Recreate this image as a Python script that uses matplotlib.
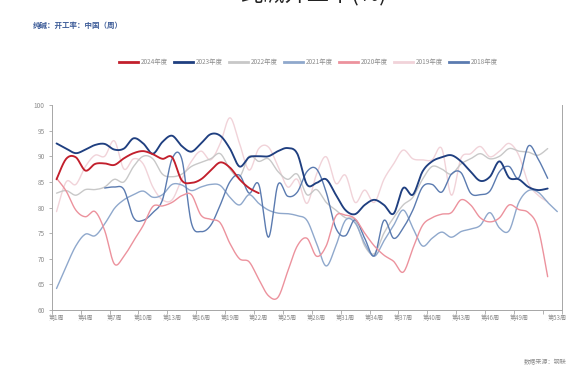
import numpy as np
import matplotlib
matplotlib.use("Agg")
import matplotlib.pyplot as plt
from matplotlib.lines import Line2D

plt.rcParams['font.family'] = ['Noto Sans CJK SC', 'DejaVu Sans']

# ---- data: soda ash operating rate by week (%) ----
y2024 = [85.5, 89.5, 89.8, 87.2, 88.5, 88.6, 88.3, 89.6, 90.6, 91.0, 90.4, 89.5,
         89.8, 85.3, 84.8, 85.5, 87.2, 88.8, 87.8, 85.5, 83.8, 82.8]

y2023 = [92.5, 91.5, 90.6, 91.3, 92.2, 92.4, 91.3, 91.5, 93.5, 92.5, 90.5, 92.8,
         94.0, 92.0, 90.9, 92.5, 94.3, 94.0, 91.5, 88.0, 89.8, 90.0, 90.0, 91.0,
         91.6, 90.5, 84.5, 84.8, 85.5, 82.5, 79.5, 78.7, 80.5, 81.5, 80.5, 78.8,
         83.8, 82.5, 87.0, 89.0, 89.8, 90.2, 89.0, 87.0, 85.2, 86.0, 89.0, 85.8,
         85.5, 84.0, 83.4, 83.7]

y2022 = [82.8, 83.3, 82.4, 83.5, 83.5, 84.0, 85.5, 85.0, 88.0, 90.0, 89.5, 86.5,
         86.0, 86.5, 88.0, 88.8, 89.5, 90.5, 87.5, 86.0, 90.0, 89.0, 89.5, 87.0,
         85.5, 86.5, 82.5, 83.5, 81.0, 79.5, 78.0, 77.5, 72.5, 71.0, 75.0, 78.0,
         80.5, 82.0, 85.5, 88.0, 87.5, 86.5, 88.5, 89.5, 90.5, 89.5, 90.0, 91.5,
         91.0, 90.8, 90.2, 91.5]

y2021 = [64.2, 68.5, 72.5, 74.8, 74.5, 76.8, 79.8, 81.5, 82.5, 83.2, 82.0, 82.5,
         84.5, 84.4, 83.3, 84.0, 84.5, 84.3, 82.0, 80.5, 82.5, 80.8, 79.5, 78.9,
         78.8, 78.4, 77.5, 73.0, 68.6, 72.5, 77.5, 77.0, 73.0, 70.5, 73.5, 76.5,
         79.5, 76.0, 72.5, 74.0, 75.2, 74.2, 75.3, 75.8, 76.5, 79.0, 76.0, 75.5,
         81.0, 83.3, 83.0, 81.0, 79.2]

y2020 = [85.7, 83.2, 79.5, 78.2, 79.2, 75.5, 69.0, 70.5, 73.5, 76.5, 80.2, 80.3,
         81.0, 82.3, 82.5, 78.5, 77.7, 77.0, 73.0, 70.0, 69.4, 66.0, 62.8, 62.5,
         67.5, 72.5, 74.0, 70.5, 72.5, 78.3, 78.5, 77.8, 75.0, 72.5, 70.7, 69.5,
         67.4, 72.0, 76.5, 78.0, 78.7, 79.0, 81.5, 80.5, 78.0, 77.2, 78.0, 80.5,
         79.6, 79.0, 76.0, 66.5]

y2019 = [79.2, 85.0, 84.5, 88.0, 90.2, 90.0, 93.0, 87.5, 89.5, 88.5, 84.0, 81.5,
         81.5, 85.5, 89.0, 91.0, 89.3, 92.5, 97.5, 92.5, 87.3, 91.5, 91.8, 88.0,
         84.0, 85.5, 80.8, 86.5, 89.9, 84.7, 86.3, 81.0, 83.4, 81.0, 85.5, 88.5,
         91.2, 89.5, 89.3, 89.3, 91.5, 82.4, 89.6, 90.5, 91.9, 89.9, 91.0, 92.5,
         90.2, 84.7, 82.4, 81.1]

# 2018 series is only reported from week 6 onward
y2018 = [None] * 5 + [83.8, 84.0, 83.5, 78.0, 77.5, 79.0, 81.5, 89.5, 89.5, 77.0,
         75.3, 76.5, 80.5, 85.0, 86.3, 82.8, 84.5, 74.2, 84.5, 82.2, 83.0, 87.0,
         87.5, 83.0, 76.0, 74.5, 77.6, 74.0, 70.6, 77.5, 74.0, 76.0, 79.5, 84.0,
         84.5, 83.0, 86.5, 86.8, 82.8, 82.5, 83.2, 87.0, 88.0, 85.8, 92.0, 89.5,
         85.7]

series_names = ['2024年度', '2023年度', '2022年度', '2021年度', '2020年度', '2019年度', '2018年度']
series_values = [y2024, y2023, y2022, y2021, y2020, y2019, y2018]
series_colors = ['#c21f2c', '#1f3f80', '#c8c8c8', '#8fa8cc', '#ec929d', '#f1d3d9', '#5b7bb0']
series_widths = [1.35, 1.35, 1.0, 1.0, 1.0, 1.0, 1.0]
draw_order = [5, 2, 3, 6, 4, 1, 0]

tick_weeks = [1, 4, 7, 10, 13, 16, 19, 22, 25, 28, 31, 34, 37, 40, 43, 46, 49, 53]
tick_labels = ['第%d周' % w for w in tick_weeks]
y_ticks = [60, 65, 70, 75, 80, 85, 90, 95, 100]


def smooth_runs(xs, ys, n=14):
    """Catmull-Rom smoothing of every finite run of points."""
    xs = np.asarray(xs, float)
    ys = np.array([np.nan if v is None else v for v in ys], float)
    ok = np.isfinite(ys)
    runs, start = [], None
    for i, f in enumerate(ok):
        if f and start is None:
            start = i
        if (not f or i == len(ok) - 1) and start is not None:
            end = i + 1 if f else i
            runs.append((start, end))
            start = None
    out = []
    for s, e in runs:
        px, py = xs[s:e], ys[s:e]
        if len(px) < 3:
            out.append((px, py))
            continue
        P = np.column_stack([px, py])
        P = np.vstack([P[0], P, P[-1]])
        t = np.linspace(0, 1, n, endpoint=False)[:, None]
        pts = []
        for i in range(1, len(P) - 2):
            p0, p1, p2, p3 = P[i - 1], P[i], P[i + 1], P[i + 2]
            c = 0.5 * ((2 * p1) + (-p0 + p2) * t + (2 * p0 - 5 * p1 + 4 * p2 - p3) * t ** 2
                       + (-p0 + 3 * p1 - 3 * p2 + p3) * t ** 3)
            pts.append(c)
        pts.append(P[-2][None, :])
        pts = np.vstack(pts)
        out.append((pts[:, 0], pts[:, 1]))
    return out


fig = plt.figure(figsize=(5.69, 3.79), dpi=100)
ax = fig.add_axes([0.0909, 0.182, 0.897, 0.541])

for idx in draw_order:
    vals = series_values[idx]
    weeks = np.arange(1, len(vals) + 1)
    for sx, sy in smooth_runs(weeks, vals):
        ax.plot(sx, sy, color=series_colors[idx], lw=series_widths[idx],
                solid_capstyle='round', zorder=2 + draw_order.index(idx))

ax.set_xlim(0.5, 53.5)
ax.set_ylim(60, 100)

axis_grey = '#a6a6a6'
for side in ['left', 'bottom', 'right']:
    ax.spines[side].set_color(axis_grey)
    ax.spines[side].set_linewidth(0.7)
ax.spines['top'].set_visible(False)

ax.set_yticks(y_ticks)
ax.set_yticklabels([str(v) for v in y_ticks])
ax.tick_params(axis='y', length=2.5, width=0.6, color=axis_grey, labelsize=4.6,
               labelcolor='#8c8c8c', pad=2.5)

ax.set_xticks(list(np.arange(0.5, 52, 3)) + [53.5])
ax.set_xticklabels([])
ax.tick_params(axis='x', which='major', length=3, width=0.6, color=axis_grey)
ax.set_xticks(tick_weeks, minor=True)
ax.set_xticklabels(tick_labels, minor=True)
ax.tick_params(axis='x', which='minor', length=0, labelsize=4.4,
               labelcolor='#8c8c8c', pad=3)

handles = [Line2D([], [], color=c, lw=2.0) for c in series_colors]
fig.legend(handles, series_names, loc='center', bbox_to_anchor=(0.542, 1 - 62 / 379),
           ncol=7, frameon=False, fontsize=4.6, labelcolor='#8c8c8c',
           handlelength=3.0, handletextpad=0.4, columnspacing=1.0)

fig.text(33 / 569, 1 - 25 / 379, '纯碱：开工率：中国（周）', fontsize=5.4,
         color='#3d5c98', fontweight='bold', va='center', ha='left')
fig.text(0.995, 1 - 362 / 379, '数据来源：钢联', fontsize=4.4, color='#8c8c8c',
         va='center', ha='right')
fig.text(0.55, 1.017, '纯碱开工率(%)', fontsize=16, color='#222222',
         va='center', ha='center')

fig.savefig('out.png', dpi=100, facecolor='white')
